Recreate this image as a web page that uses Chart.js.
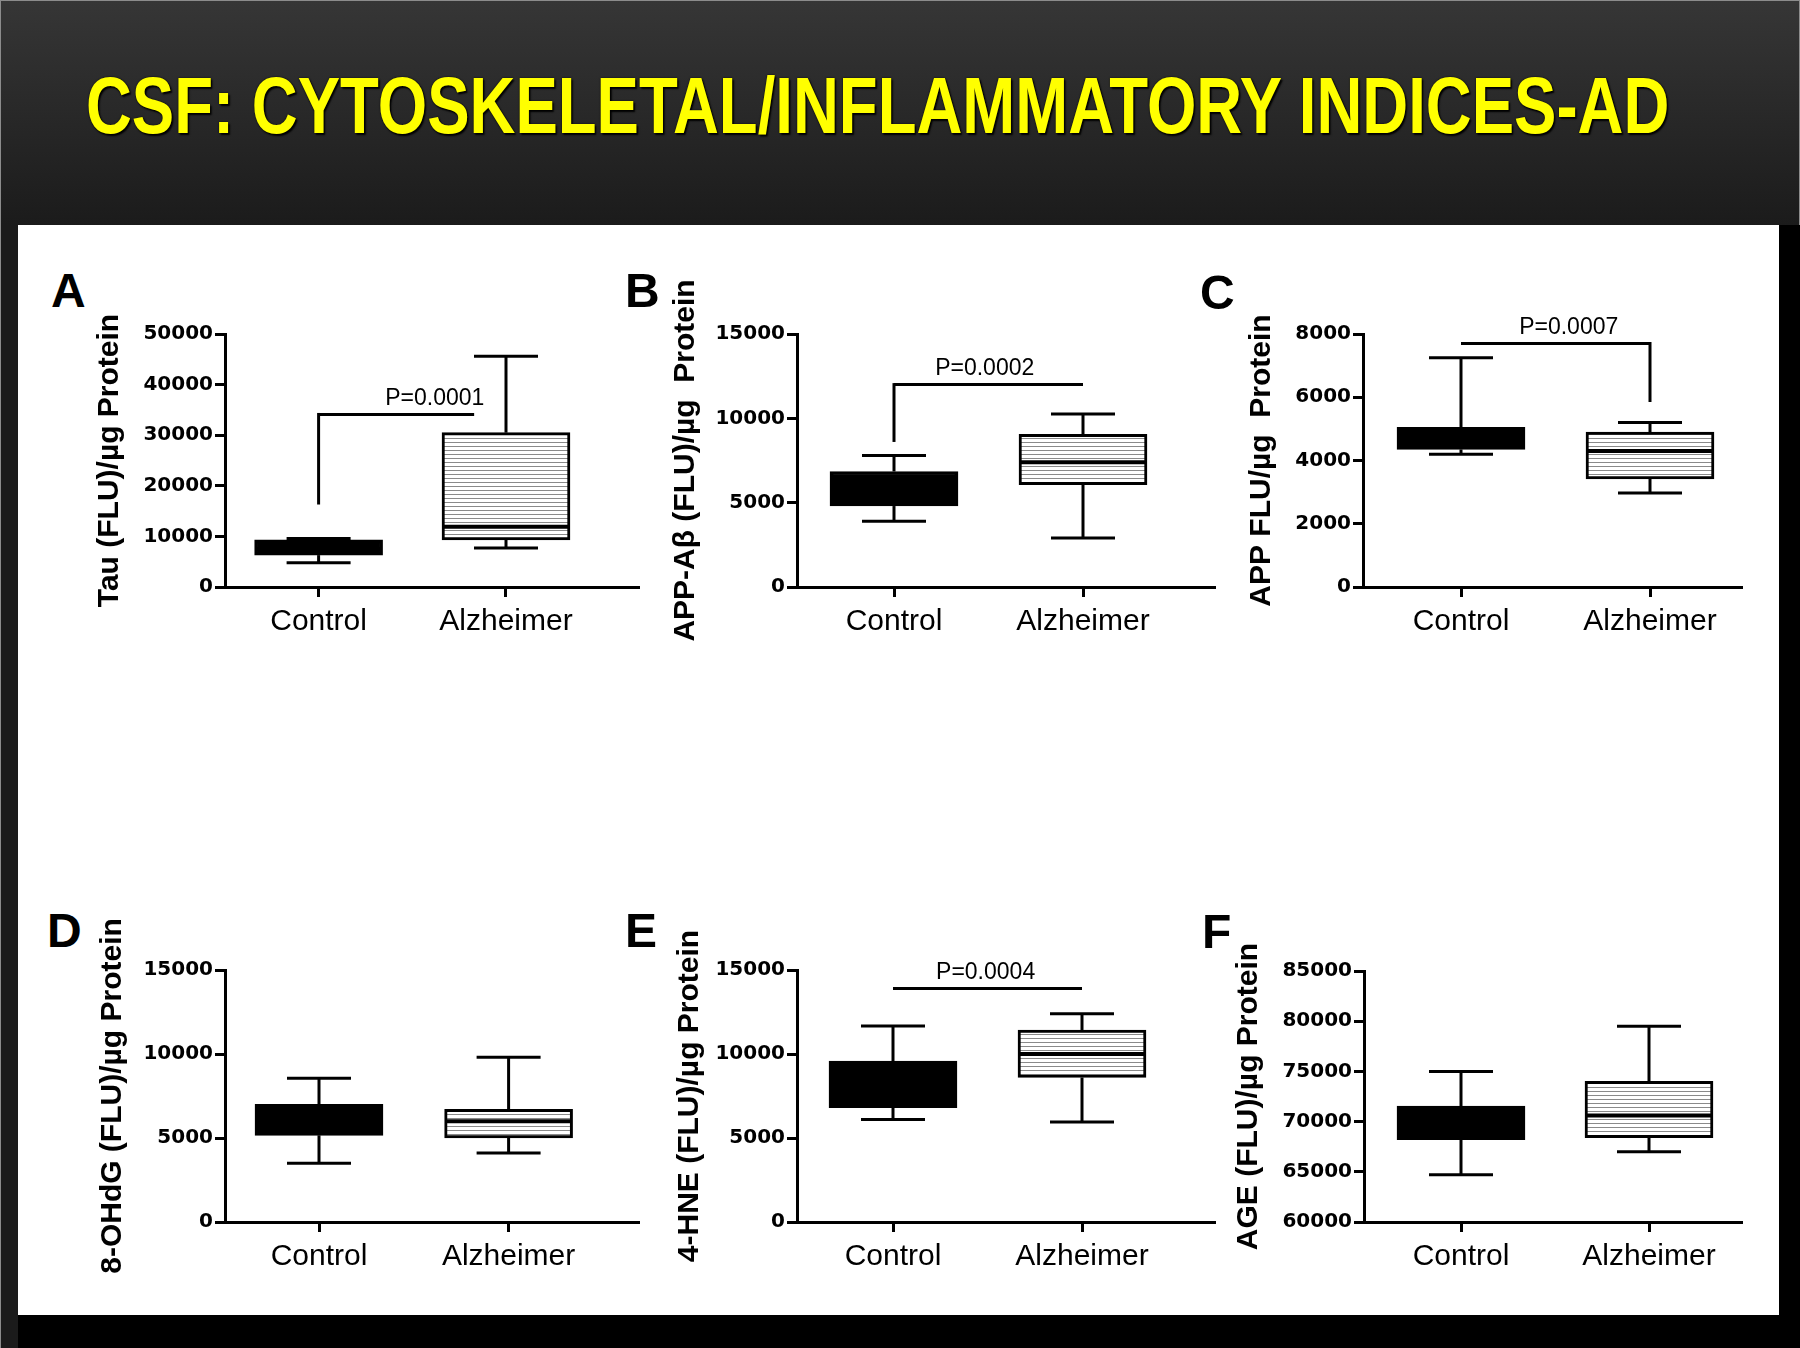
<!DOCTYPE html>
<html>
<head>
<meta charset="utf-8">
<script src="https://cdn.jsdelivr.net/npm/chart.js@4.4.1/dist/chart.umd.min.js"></script>
<style>
  html, body { margin: 0; padding: 0; background: #000; }
  #page { position: relative; width: 1800px; height: 1348px; overflow: hidden; background: #000; }
  #band { position: absolute; left: 0; top: 0; width: 1798px; height: 224px; background: linear-gradient(#363636, #1b1b1b); border: 1px solid #8c8c8c; border-bottom: none; }
  #strip { position: absolute; left: 0; top: 225px; width: 17px; height: 1123px; background: #1b1b1b; border-left: 1px solid #8c8c8c; }
  #sheet { position: absolute; left: 18px; top: 225px; width: 1761px; height: 1090px; background: #fff; }
  #title { position: absolute; left: 86px; top: 66px; font: bold 80px "Liberation Sans", Arial, sans-serif; line-height: 1; color: #ffff00; white-space: nowrap; transform: scaleX(0.794); transform-origin: 0 0; text-shadow: 2px 2px 2px #000, 0 0 2px #000; }
  .letter { position: absolute; font: bold 48px "Liberation Sans", Arial, sans-serif; line-height: 1; color: #000; }
  canvas { position: absolute; }
</style>
</head>
<body>
<div id="page">
  <div id="band"></div>
  <div id="strip"></div>
  <div id="sheet"></div>
  <div id="title">CSF: CYTOSKELETAL/INFLAMMATORY INDICES-AD</div>
</div>
<script>
const groups = ['Control', 'Alzheimer'];
const panelLetters = ['A', 'B', 'C', 'D', 'E', 'F'];
const yTitles = [
  'Tau (FLU)/\u00b5g Protein',
  'APP-A\u03b2 (FLU)/\u00b5g  Protein',
  'APP FLU/\u00b5g  Protein',
  '8-OHdG (FLU)/\u00b5g Protein',
  '4-HNE (FLU)/\u00b5g Protein',
  'AGE (FLU)/\u00b5g Protein'
];
const yMin = [0, 0, 0, 0, 0, 60000];
const yMax = [50000, 15000, 8000, 15000, 15000, 85000];
const yStep = [10000, 5000, 2000, 5000, 5000, 5000];

// per panel: [Control, Alzheimer]
const whiskerLow  = [[4800, 7700], [3900, 2900], [4200, 2970], [3500, 4100], [6100, 5950], [64700, 67000]];
const q1          = [[6300, 9300], [4800, 6070], [4350, 3420], [5160, 5000], [6800, 8600], [68200, 68400]];
const medians     = [[7500, 11900], [5900, 7400], [4700, 4300], [6100, 6000], [8200, 10000], [70000, 70600]];
const q3          = [[9300, 30500], [6850, 9050], [5050, 4900], [7000, 6700], [9580, 11430], [71550, 74000]];
const whiskerHigh = [[9600, 45600], [7800, 10250], [7250, 5200], [8550, 9800], [11670, 12400], [75000, 79500]];

const pValues = ['P=0.0001', 'P=0.0002', 'P=0.0007', null, 'P=0.0004', null];
const bracketLevel = [34100, 12000, 7700, null, 13900, null];
const bracketDropControl = [16300, 8600, null, null, null, null];
const bracketDropAlzheimer = [null, null, 5850, null, null, null];

// page layout (pixels) for each panel
const layout = [
  { left: 225, right: 639, top: 334, bottom: 587, ctrl: 318.6, alz: 506, titleX: 110, letter: [51, 267], brEnd: 0.83, txt: 0.62 },
  { left: 797, right: 1215, top: 334, bottom: 587, ctrl: 894, alz: 1083, titleX: 686, letter: [625, 267], brEnd: 1, txt: 0.48 },
  { left: 1363, right: 1742, top: 334, bottom: 587, ctrl: 1461, alz: 1650, titleX: 1262, letter: [1200, 269], brEnd: 1, txt: 0.57 },
  { left: 225, right: 639, top: 970, bottom: 1222, ctrl: 319, alz: 508.6, titleX: 113, letter: [47, 907], brEnd: 1, txt: 0.5 },
  { left: 797, right: 1215, top: 970, bottom: 1222, ctrl: 893, alz: 1082, titleX: 690, letter: [625, 907], brEnd: 1, txt: 0.49 },
  { left: 1364, right: 1742, top: 971, bottom: 1222, ctrl: 1461, alz: 1649, titleX: 1249, letter: [1202, 908], brEnd: 1, txt: 0.5 }
];

function hatch() {
  const c = document.createElement('canvas');
  c.width = 8; c.height = 4;
  const g = c.getContext('2d');
  g.fillStyle = '#fff'; g.fillRect(0, 0, 8, 4);
  g.fillStyle = '#8a8a8a'; g.fillRect(0, 0, 8, 1);
  return g.createPattern(c, 'repeat');
}

const boxPlugin = {
  id: 'boxWhiskers',
  afterDatasetsDraw(chart) {
    const i = chart.options.plugins.boxWhiskers.panel;
    const lay = layout[i];
    const ctx = chart.ctx, xs = chart.scales.x, ys = chart.scales.y;
    const meta = chart.getDatasetMeta(0);
    const line = (x1, y1, x2, y2) => { ctx.beginPath(); ctx.moveTo(x1, y1); ctx.lineTo(x2, y2); ctx.stroke(); };
    ctx.save();
    ctx.strokeStyle = '#000';
    groups.forEach((g, k) => {
      const bar = meta.data[k];
      const x = xs.getPixelForValue(k);
      const half = bar.width / 2, cap = bar.width / 4;
      const yLo = ys.getPixelForValue(whiskerLow[i][k]);
      const yQ1 = ys.getPixelForValue(q1[i][k]);
      const yMed = ys.getPixelForValue(medians[i][k]);
      const yQ3 = ys.getPixelForValue(q3[i][k]);
      const yHi = ys.getPixelForValue(whiskerHigh[i][k]);
      ctx.lineWidth = 3;
      line(x, yQ3, x, yHi); line(x - cap, yHi, x + cap, yHi);
      line(x, yQ1, x, yLo); line(x - cap, yLo, x + cap, yLo);
      ctx.lineWidth = 4;
      line(x - half + 2, yMed, x + half - 2, yMed);
    });
    if (pValues[i]) {
      ctx.lineWidth = 3;
      const x0 = xs.getPixelForValue(0), x1 = xs.getPixelForValue(lay.brEnd);
      const yb = ys.getPixelForValue(bracketLevel[i]);
      line(x0, yb, x1, yb);
      if (bracketDropControl[i] != null) line(x0, yb - 1.5, x0, ys.getPixelForValue(bracketDropControl[i]));
      if (bracketDropAlzheimer[i] != null) line(x1, yb - 1.5, x1, ys.getPixelForValue(bracketDropAlzheimer[i]));
      ctx.fillStyle = '#000';
      ctx.font = '23px "Liberation Sans", Arial, sans-serif';
      ctx.textAlign = 'center';
      ctx.textBaseline = 'bottom';
      ctx.fillText(pValues[i], xs.getPixelForValue(lay.txt), yb - 4);
    }
    ctx.restore();
  }
};

const page = document.getElementById('page');
const pattern = hatch();

layout.forEach((lay, i) => {
  const letter = document.createElement('div');
  letter.className = 'letter';
  letter.textContent = panelLetters[i];
  letter.style.left = lay.letter[0] + 'px';
  letter.style.top = lay.letter[1] + 'px';
  page.appendChild(letter);

  const yAxisW = 165, padTop = 80, padRight = 30, xAxisH = 60;
  const cv = document.createElement('canvas');
  const cl = lay.left - yAxisW, ct = lay.top - padTop;
  cv.width = lay.right + padRight - cl;
  cv.height = lay.bottom + xAxisH - ct;
  cv.style.left = cl + 'px';
  cv.style.top = ct + 'px';
  page.appendChild(cv);

  const unit = lay.alz - lay.ctrl;
  const xMin = -(lay.ctrl - lay.left) / unit;
  const xMax = 1 + (lay.right - lay.alz) / unit;

  new Chart(cv, {
    type: 'bar',
    data: {
      datasets: [{
        data: groups.map((g, k) => ({ x: k, y: [q1[i][k], q3[i][k]] })),
        backgroundColor: ['#000', pattern],
        borderColor: '#000',
        borderWidth: 3,
        borderSkipped: false,
        barThickness: 128
      }]
    },
    options: {
      responsive: false,
      animation: false,
      layout: { padding: { top: padTop, right: padRight, left: 0, bottom: 0 } },
      plugins: { legend: { display: false }, tooltip: { enabled: false }, boxWhiskers: { panel: i } },
      scales: {
        x: {
          type: 'linear', min: xMin, max: xMax, offset: false,
          afterBuildTicks: s => { s.ticks = [{ value: 0 }, { value: 1 }]; },
          afterFit: s => { s.height = xAxisH; },
          border: { display: true, color: '#000', width: 3 },
          grid: { offset: false, drawOnChartArea: false, color: '#000', tickLength: 10, tickWidth: 3 },
          ticks: { color: '#000', padding: 7, maxRotation: 0, autoSkip: false,
                   font: { family: '"Liberation Sans", Arial, sans-serif', size: 30 },
                   callback: v => groups[v] ?? '' }
        },
        y: {
          min: yMin[i], max: yMax[i],
          afterFit: s => { s.width = yAxisW; },
          border: { display: true, color: '#000', width: 3 },
          grid: { drawOnChartArea: false, color: '#000', tickLength: 10, tickWidth: 3 },
          ticks: { stepSize: yStep[i], color: '#000', padding: 2,
                   font: { family: '"DejaVu Sans", sans-serif', size: 20, weight: 'bold' },
                   callback: v => String(v) },
          title: { display: true, text: yTitles[i], color: '#000',
                   font: { family: '"Liberation Sans", Arial, sans-serif', size: 30, weight: 'bold' },
                   padding: { top: lay.titleX - cl - 18, bottom: 0 } }
        }
      }
    },
    plugins: [boxPlugin]
  });
});
</script>
</body>
</html>
